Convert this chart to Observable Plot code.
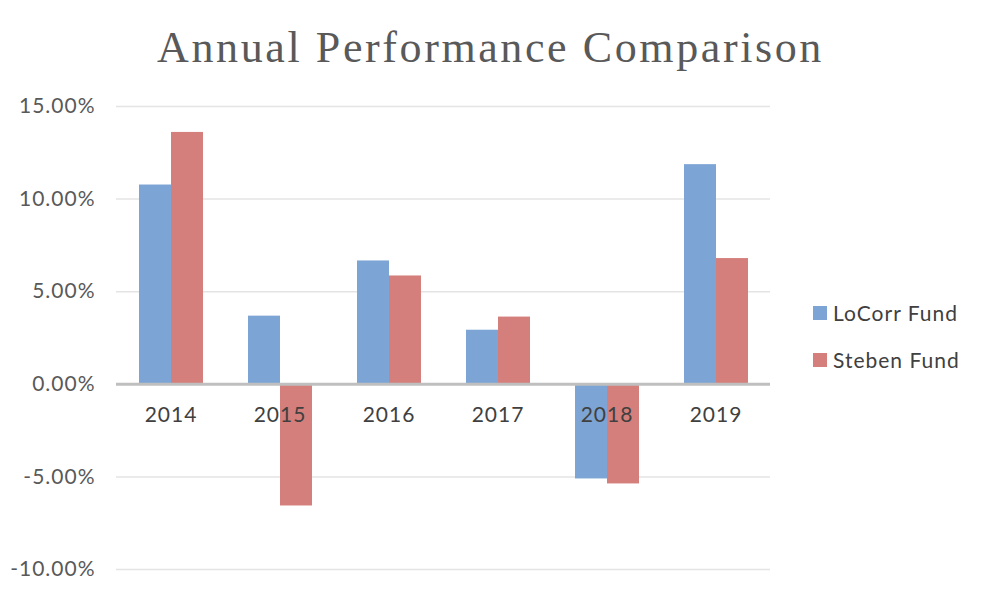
<!DOCTYPE html>
<html>
<head>
<meta charset="utf-8">
<script src="https://cdn.jsdelivr.net/npm/d3@7"></script>
<script src="https://cdn.jsdelivr.net/npm/@observablehq/plot@0.6"></script>
<style>
  body { margin: 0; background: #fff; width: 981px; height: 594px; overflow: hidden; position: relative; }
  #title { height: 90px; text-align: center; font-family: "Liberation Serif", "DejaVu Serif", serif; font-size: 44px; color: #595959; line-height: 96px; letter-spacing: 2.6px; padding-right: 0px; }
  #legend { position: absolute; left: 813px; top: 289px; font-family: Lato, "Open Sans", sans-serif; font-size: 21px; letter-spacing: 1px; color: #404040; }
  #legend div { display: flex; align-items: center; height: 47px; }
  #legend span.sw { display: inline-block; width: 14px; height: 14px; margin-right: 6px; }
  svg text { font-family: Lato, "Open Sans", sans-serif; letter-spacing: 1px; }
</style>
</head>
<body>
<div id="title">Annual Performance Comparison</div>
<div id="chart"></div>
<div id="legend"></div>
<script>
const years = ["2014", "2015", "2016", "2017", "2018", "2019"];
const seriesNames = ["LoCorr Fund", "Steben Fund"];
const locorr = [10.76, 3.68, 6.66, 2.92, -5.11, 11.86];
const steben = [13.60, -6.57, 5.85, 3.63, -5.38, 6.79];
const colors = ["#7ca4d4", "#d47f7c"];
const yTicks = [-10, -5, 0, 5, 10, 15];

const data = [];
years.forEach((y, i) => {
  data.push({year: y, series: seriesNames[0], value: locorr[i]});
  data.push({year: y, series: seriesNames[1], value: steben[i]});
});

const plot = Plot.plot({
  width: 981,
  height: 504,
  marginTop: 16,
  marginBottom: 25,
  marginLeft: 115,
  marginRight: 211,
  style: {fontSize: "21px", color: "#595959", background: "transparent"},
  fx: {domain: years, axis: null, paddingInner: 0, paddingOuter: 0},
  x: {domain: seriesNames, axis: null, paddingInner: 0, paddingOuter: 0.7},
  y: {domain: [-10, 15], ticks: yTicks, tickFormat: d => d.toFixed(2) + "%", tickSize: 0, tickPadding: 22, label: null},
  color: {domain: seriesNames, range: colors},
  marks: [
    Plot.gridY(yTicks, {stroke: "#d9d9d9", strokeOpacity: 0.7, strokeWidth: 1.5, facet: "exclude"}),
    Plot.axisY(yTicks, {tickSize: 0, tickPadding: 21, tickFormat: d => d.toFixed(2) + "%", fill: "#595959", fontSize: 21, facet: "exclude", label: null}),
    Plot.barY(data, {fx: "year", x: "series", y: "value", fill: "series"}),
    Plot.ruleY([0], {stroke: "#bfbfbf", strokeWidth: 3}),
    Plot.text(years, {fx: d => d, y: 0, text: d => d, dy: 31, fill: "#404040", fontSize: 21})
  ]
});
document.getElementById("chart").appendChild(plot);

const legend = document.getElementById("legend");
seriesNames.forEach((s, i) => {
  const row = document.createElement("div");
  const sw = document.createElement("span");
  sw.className = "sw";
  sw.style.background = colors[i];
  row.appendChild(sw);
  row.appendChild(document.createTextNode(s));
  legend.appendChild(row);
});
</script>
</body>
</html>
